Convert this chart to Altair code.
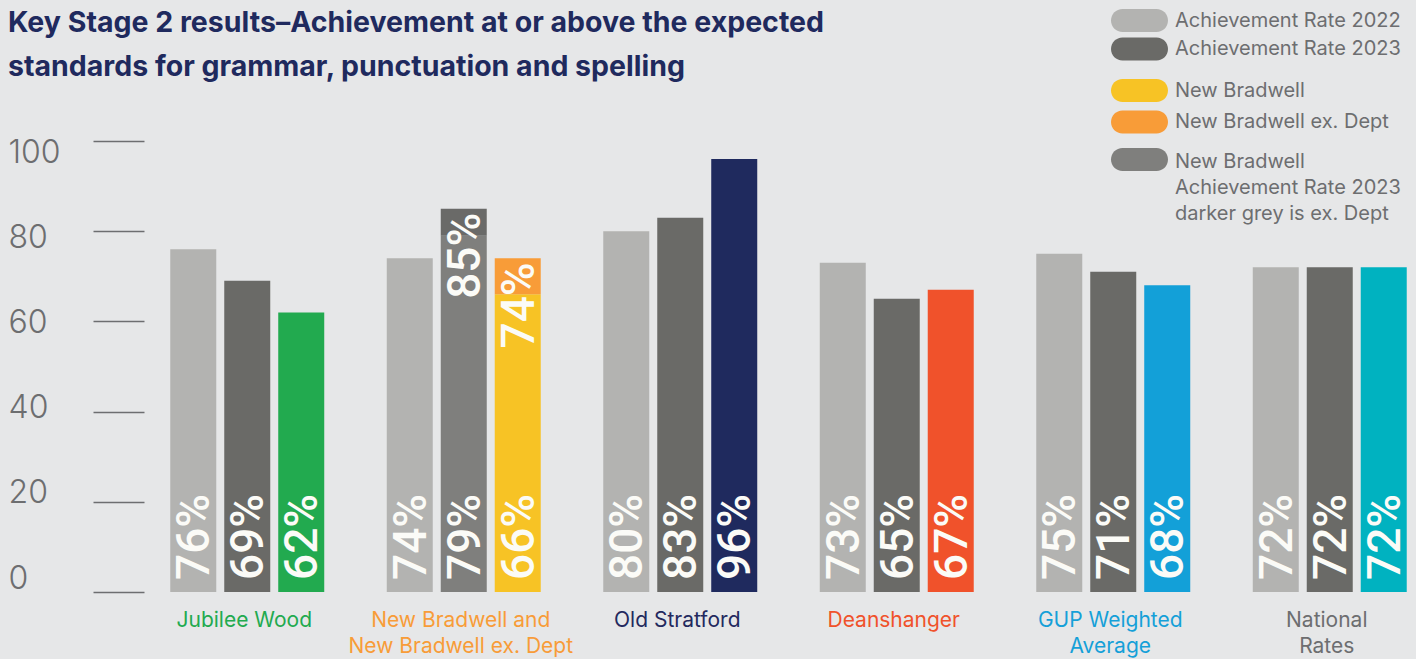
import altair as alt
import pandas as pd

# ---------------- data ----------------
groups = ["Jubilee Wood", "New Bradwell and|New Bradwell ex. Dept", "Old Stratford",
          "Deanshanger", "GUP Weighted|Average", "National|Rates"]
rate_2022 = [76, 74, 80, 73, 75, 72]
rate_2023 = [69, 79, 83, 65, 71, 72]
school_rate = [62, 66, 96, 67, 68, 72]
nb_exdept_2023 = 85
nb_exdept_school = 74
NB_INDEX = 1

school_keys = ["Jubilee Wood", "New Bradwell", "Old Stratford", "Deanshanger",
               "GUP Weighted Average", "National Rates"]
series_order = ["2022", "2023", "school"]

KEY_2022 = "Achievement Rate 2022"
KEY_2023 = "Achievement Rate 2023"
KEY_NB = "New Bradwell"
KEY_NBX = "New Bradwell ex. Dept"
KEY_NB23 = "New Bradwell|Achievement Rate 2023|darker grey is ex. Dept"
KEY_NB23X = "NB 2023 ex. Dept"

# ---------------- styles ----------------
BG = "#e6e7e8"
GREY_TEXT = "#6d6e70"
school_colors = ["#22aa4f", "#f7c325", "#1f2a5e", "#f0522b", "#13a0d8", "#00b2c0"]
label_colors = ["#22aa4f", "#f89c38", "#23295e", "#f0522b", "#15a0d8", "#6d6e70"]
PILL = "M-1.478,-1 L1.478,-1 A1,1 0 0 1 1.478,1 L-1.478,1 A1,1 0 0 1 -1.478,-1 Z"
PILL_C = "M-1.478,-0.3 L1.478,-0.3 A1,1 0 0 1 1.478,1.7 L-1.478,1.7 A1,1 0 0 1 -1.478,-0.3 Z"

rows = []
for i, g in enumerate(groups):
    rows.append(dict(group=g, series="2022", start=0, end=rate_2022[i], key=KEY_2022, layer="A"))
    if i == NB_INDEX:
        rows.append(dict(group=g, series="2023", start=0, end=rate_2023[i], key=KEY_NB23, layer="C"))
        rows.append(dict(group=g, series="2023", start=rate_2023[i], end=nb_exdept_2023, key=KEY_NB23X, layer="C"))
        rows.append(dict(group=g, series="school", start=0, end=school_rate[i], key=KEY_NB, layer="B"))
        rows.append(dict(group=g, series="school", start=school_rate[i], end=nb_exdept_school, key=KEY_NBX, layer="B"))
    else:
        rows.append(dict(group=g, series="2023", start=0, end=rate_2023[i], key=KEY_2023, layer="A"))
        rows.append(dict(group=g, series="school", start=0, end=school_rate[i], key=school_keys[i], layer="B"))
df = pd.DataFrame(rows)
df_groups = pd.DataFrame({"group": groups})

W, H = 1270, 451

x_enc = alt.X("group:N", sort=groups,
              scale=alt.Scale(domain=groups, range=[-2, 1297], paddingInner=0, paddingOuter=0),
              axis=None)
xo_enc = alt.XOffset("series:N", sort=series_order,
                     scale=alt.Scale(domain=series_order, paddingInner=0.148, paddingOuter=0.579))
y_axis = alt.Axis(values=[0, 20, 40, 60, 80, 100], domain=False, grid=False, ticks=True,
                  tickSize=51, tickWidth=1.5, tickColor=GREY_TEXT, offset=-3,
                  labelAlign="left", labelPadding=85, labelFont="Inter", labelFontSize=32,
                  labelFontWeight=300, labelColor=GREY_TEXT, labelBaseline="middle",
                  labelOffset={"expr": "-14 + 0.25*datum.value"}, title=None)
y_scale = alt.Scale(domain=[0, 100], nice=False)


def legend(values, lx, ly, row_pad, symbol=PILL, baseline="middle", expr=None):
    kw = dict(orient="none", legendX=lx, legendY=ly, title=None, values=values,
              symbolType=symbol, symbolSize=529, symbolStrokeWidth=0, symbolOpacity=1,
              labelFont="Inter", labelFontSize=20, labelColor=GREY_TEXT,
              labelOffset=24, rowPadding=row_pad, labelLimit=500, padding=0,
              labelBaseline=baseline)
    if expr:
        kw["labelExpr"] = expr
    return alt.Legend(**kw)


def bars(layer, domain, rng, leg):
    return alt.Chart(df).transform_filter(alt.datum.layer == layer).mark_bar().encode(
        x=x_enc, xOffset=xo_enc,
        y=alt.Y("start:Q", scale=y_scale, axis=y_axis), y2="end:Q",
        color=alt.Color("key:N", scale=alt.Scale(domain=domain, range=rng), legend=leg),
    )


bars_a = bars("A", [KEY_2022, KEY_2023], ["#b3b3b1", "#6a6a67"],
              legend([KEY_2022, KEY_2023], 987, -132, 5.4))
bars_b = bars("B", [KEY_NB, KEY_NBX] + [k for j, k in enumerate(school_keys) if j != NB_INDEX],
              ["#f7c325", "#f89c38"] + [c for j, c in enumerate(school_colors) if j != NB_INDEX],
              legend([KEY_NB, KEY_NBX], 987, -62, 8.5))
bars_c = bars("C", [KEY_NB23, KEY_NB23X], ["#7f7f7d", "#6a6a68"],
              legend([KEY_NB23], 987, -1, 0, symbol=PILL_C, baseline="top",
                     expr="split(datum.label, '|')"))

bottom_labels = alt.Chart(df).transform_filter("datum.start == 0").transform_calculate(
    pct="datum.end + '%'"
).mark_text(angle=270, align="left", baseline="middle", dx=12, dy=2, font="Roboto",
            fontSize=46, fontWeight=500, color="#fbfbf7").encode(
    x=x_enc, xOffset=xo_enc, y=alt.Y("start:Q", scale=y_scale, axis=y_axis), text="pct:N")

top_labels = alt.Chart(df).transform_filter("datum.start > 0").transform_calculate(
    pct="datum.end + '%'"
).mark_text(angle=270, align="right", baseline="middle", dx=-4, dy=2, font="Roboto",
            fontSize=46, fontWeight=500, color="#fbfbf7").encode(
    x=x_enc, xOffset=xo_enc, y=alt.Y("end:Q", scale=y_scale, axis=y_axis), text="pct:N")

x_labels = alt.Chart(df_groups).transform_calculate(
    lines="split(datum.group, '|')"
).mark_text(baseline="top", align="center", font="Inter", fontSize=21, lineHeight=26,
            dx=-3).encode(
    x=x_enc, y=alt.value(H + 18), text="lines:N",
    color=alt.Color("group:N", scale=alt.Scale(domain=groups, range=label_colors), legend=None))

chart = alt.layer(bars_a, bars_b, bars_c, bottom_labels, top_labels, x_labels).resolve_scale(
    color="independent"
).properties(
    width=W, height=H,
    title=alt.TitleParams(
        text=["Key Stage 2 results\u2013Achievement at or above the expected",
              "standards for grammar, punctuation and spelling"],
        anchor="start", frame="group", font="Inter", fontSize=28.5, fontWeight="bold",
        color="#1f2a5e", lineHeight=44, dx=-133, dy=92, baseline="top", offset=20),
    autosize=alt.AutoSizeParams(type="none"),
    padding={"left": 141, "top": 141, "right": 5, "bottom": 67},
    background=BG,
).configure(
    view={"stroke": None},
    style={"guide-label": {"lineHeight": 26}},
)

chart.save("out.html", embed_options={"renderer": "svg", "actions": False})
